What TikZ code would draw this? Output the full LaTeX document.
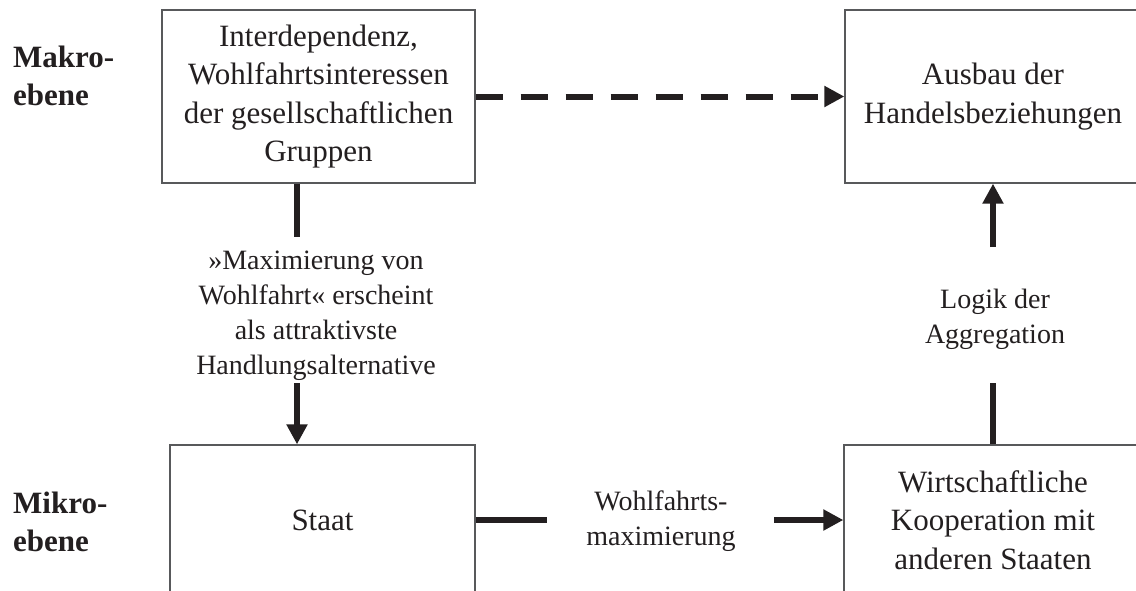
\documentclass[tikz,border=0pt]{standalone}
\usepackage{fontspec}
\setmainfont{Liberation Serif}
\usetikzlibrary{arrows.meta}
\definecolor{ink}{HTML}{231F20}
\definecolor{frame}{HTML}{58595B}
\begin{document}
\begin{tikzpicture}[x=1pt,y=-1pt,
  box/.style={draw=frame,line width=1.3pt,inner sep=0pt,align=center,text=ink,
    font=\fontsize{31}{38.5}\selectfont},
  lab/.style={inner sep=0pt,align=center,text=ink,font=\fontsize{28}{35}\selectfont},
  level/.style={inner sep=0pt,align=left,anchor=west,text=ink,font=\fontsize{31}{38}\selectfont\bfseries},
  bar/.style={draw=ink,line width=6pt},
  tip/.style={-{Triangle[length=20pt,width=20pt]}}]
\useasboundingbox[fill=white] (0,0) rectangle (1136,590);
\begin{scope}[overlay]
\clip (0,0) rectangle (1136,590);
% boxes
\node[box,minimum width=313pt,minimum height=173pt] (tl) at (318.5,96.5)
  {Interdependenz,\\Wohlfahrtsinteressen\\der gesellschaftlichen\\Gruppen};
\node[box,minimum width=296pt,minimum height=173pt] (ah) at (993,96.5)
  {Ausbau der\\Handelsbeziehungen};
\node[box,minimum width=305pt,minimum height=150pt] (st) at (322.5,520)
  {Staat};
\node[box,minimum width=298pt,minimum height=150pt] (wk) at (993,520)
  {Wirtschaftliche\\Kooperation mit\\anderen Staaten};
% level labels
\node[level] (makro) at (13,76) {Makro-\\ebene};
\node[level] (mikro) at (13,522) {Mikro-\\ebene};
% connector labels
\node[lab] (l1) at (316,315.5) {»Maximierung von\\Wohlfahrt« erscheint\\als attraktivste\\Handlungsalternative};
\node[lab] (l2) at (995,319.5) {Logik der\\Aggregation};
\node[lab] (l3) at (661,521) {Wohlfahrts-\\maximierung};
% connector waypoints
\coordinate (a1) at (297,237);
\coordinate (a2) at (297,383);
\coordinate (b1) at (993,383);
\coordinate (b2) at (993,247);
\coordinate (c1) at (547,520);
\coordinate (c2) at (774,520);
% connectors
\draw[bar,dash pattern=on 27pt off 18pt,tip] (tl.east) -- (ah.west);
\draw[bar] (a1 |- tl.south) -- (a1);
\draw[bar,tip] (a2) -- (a2 |- st.north);
\draw[bar] (b1 |- wk.north) -- (b1);
\draw[bar,tip] (b2) -- (b2 |- ah.south);
\draw[bar] (st.east) -- (c1);
\draw[bar,tip] (c2) -- (wk.west);
\end{scope}
\end{tikzpicture}
\end{document}
